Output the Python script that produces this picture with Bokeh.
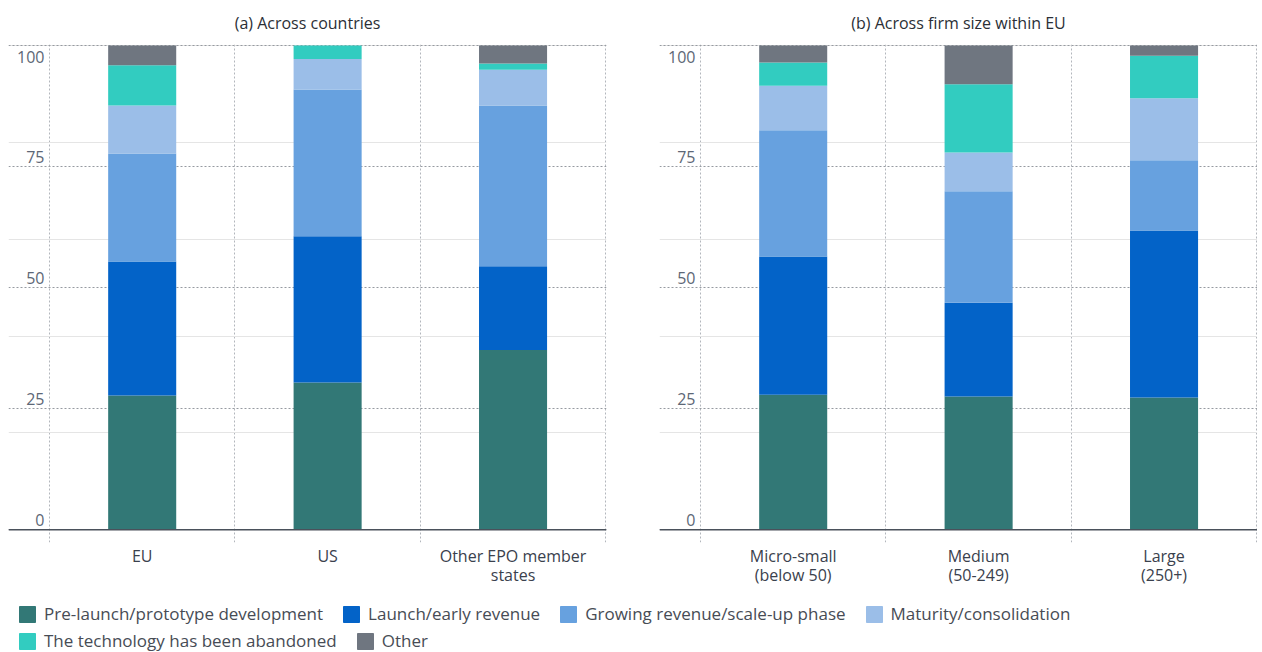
from bokeh.plotting import figure
from bokeh.models import (ColumnDataSource, Range1d, FixedTicker, Span, Legend,
                          LegendItem, Grid)
from bokeh.layouts import column, row
from bokeh.embed import file_html
from bokeh.resources import INLINE
from bokeh.core.properties import value

# ---------------- data ----------------
countries = ["EU", "US", "Other EPO member\nstates"]
firm_sizes = ["Micro-small\n(below 50)", "Medium\n(50-249)", "Large\n(250+)"]

series = ["Pre-launch/prototype development", "Launch/early revenue",
          "Growing revenue/scale-up phase", "Maturity/consolidation",
          "The technology has been abandoned", "Other"]
colors = ["#327876", "#0363c8", "#67a1df", "#9bbee8", "#32ccc0", "#6f7680"]

# (a) Across countries
prelaunch_a = [27.7, 30.4, 37.1]
launch_a = [27.7, 30.2, 17.3]
growing_a = [22.3, 30.3, 33.2]
maturity_a = [9.9, 6.3, 7.4]
abandoned_a = [8.3, 2.8, 1.3]
other_a = [4.1, 0.0, 3.7]

# (b) Across firm size within EU
prelaunch_b = [27.9, 27.5, 27.3]
launch_b = [28.5, 19.4, 34.5]
growing_b = [26.1, 23.0, 14.5]
maturity_b = [9.2, 8.0, 12.8]
abandoned_b = [4.8, 14.1, 8.8]
other_b = [3.5, 8.0, 2.1]

y_ticks = [0, 25, 50, 75, 100]
y_labels = ["0", "25", "50", "75", "100"]

titles = ["(a) Across countries", "(b) Across firm size within EU"]

FONT = "Open Sans"
keys = ["s0", "s1", "s2", "s3", "s4", "s5"]
FW, FH = 598, 498


def make_source(cats, vals):
    d = {"x": [i + 0.5 for i in range(len(cats))]}
    for k, v in zip(keys, vals):
        d[k] = v
    return ColumnDataSource(d)


def make_panel(title, cats, vals, mbl, mbr):
    src = make_source(cats, vals)
    p = figure(frame_width=FW, frame_height=FH,
               x_range=Range1d(-0.221, 3.004), y_range=Range1d(-2.63, 100.2),
               x_axis_location="below", y_axis_location=None,
               output_backend="svg", toolbar_location=None, title=title,
               min_border_left=mbl, min_border_right=mbr,
               min_border_top=44, min_border_bottom=50)
    p.outline_line_color = None
    p.background_fill_color = "white"
    p.border_fill_color = "white"

    p.title.align = "center"
    p.title.vertical_align = "top"
    p.title.standoff = 18
    p.title.text_font = FONT
    p.title.text_font_size = "16px"
    p.title.text_font_style = "normal"
    p.title.text_color = "#2b2f36"

    # vertical dotted separators
    p.xgrid.ticker = FixedTicker(ticks=[0, 1, 2, 3])
    p.xgrid.grid_line_color = "#b2b6bc"
    p.xgrid.grid_line_dash = "2 2"
    p.xgrid.grid_line_width = 1

    # horizontal dotted grid
    yg = Grid(dimension=1, ticker=FixedTicker(ticks=y_ticks),
              grid_line_color="#969aa1", grid_line_dash="2 2", grid_line_width=1)
    p.add_layout(yg)

    p.vbar_stack(keys, x="x", width=0.367, color=colors, source=src,
                 line_width=0)

    p.add_layout(Span(location=0, dimension="width", line_color="#4a515b",
                      line_width=1.5))

    # y tick labels drawn inside the frame
    p.text(x=[0] * 4, y=y_ticks[:-1], text=y_labels[:-1], text_align="right",
           text_baseline="bottom", x_offset=-5, y_offset=-4,
           text_font=value(FONT), text_font_size="16px", text_color="#5d6776")
    p.text(x=[0], y=y_ticks[-1:], text=y_labels[-1:], text_align="right",
           text_baseline="top", x_offset=-5, y_offset=6,
           text_font=value(FONT), text_font_size="16px", text_color="#5d6776")

    ax = p.xaxis[0]
    ax.ticker = FixedTicker(ticks=[i + 0.5 for i in range(len(cats))])
    ax.major_label_overrides = {i + 0.5: c for i, c in enumerate(cats)}
    ax.axis_line_color = None
    ax.major_tick_line_color = None
    ax.minor_tick_line_color = None
    ax.major_label_standoff = -4
    ax.major_label_text_font = FONT
    ax.major_label_text_font_size = "16px"
    ax.major_label_text_line_height = 0.9
    ax.major_label_text_color = "#3a414d"
    return p, src


vals_a = [prelaunch_a, launch_a, growing_a, maturity_a, abandoned_a, other_a]
vals_b = [prelaunch_b, launch_b, growing_b, maturity_b, abandoned_b, other_b]

p1, src_a = make_panel(titles[0], countries, vals_a, 8, 23)
p2, src_b = make_panel(titles[1], firm_sizes, vals_b, 30, 0)

# legend figure
lf = figure(width=1257, height=60, x_range=Range1d(-10, -9),
            y_range=Range1d(-10, -9), x_axis_location=None,
            y_axis_location=None, output_backend="svg", toolbar_location=None,
            min_border=0)
lf.outline_line_color = None
lf.xgrid.visible = False
lf.ygrid.visible = False
rends = lf.vbar_stack(keys, x="x", width=0.367, color=colors, source=src_a)


def make_legend(idx, loc):
    lg = Legend(items=[LegendItem(label=series[i], renderers=[rends[i]]) for i in idx],
                location=loc, orientation="horizontal", padding=0, margin=0,
                spacing=18, glyph_width=20, glyph_height=20, label_standoff=7,
                border_line_color=None, background_fill_alpha=0,
                label_text_font=FONT, label_text_font_size="17px",
                label_text_color="#474c55", label_height=20)
    return lg


lf.add_layout(make_legend([0, 1, 2, 3], (17, 27)))
lf.add_layout(make_legend([4, 5], (17, 0)))

layout = column(row(p1, p2), lf)
open("out.html", "w").write(file_html(layout, INLINE))
